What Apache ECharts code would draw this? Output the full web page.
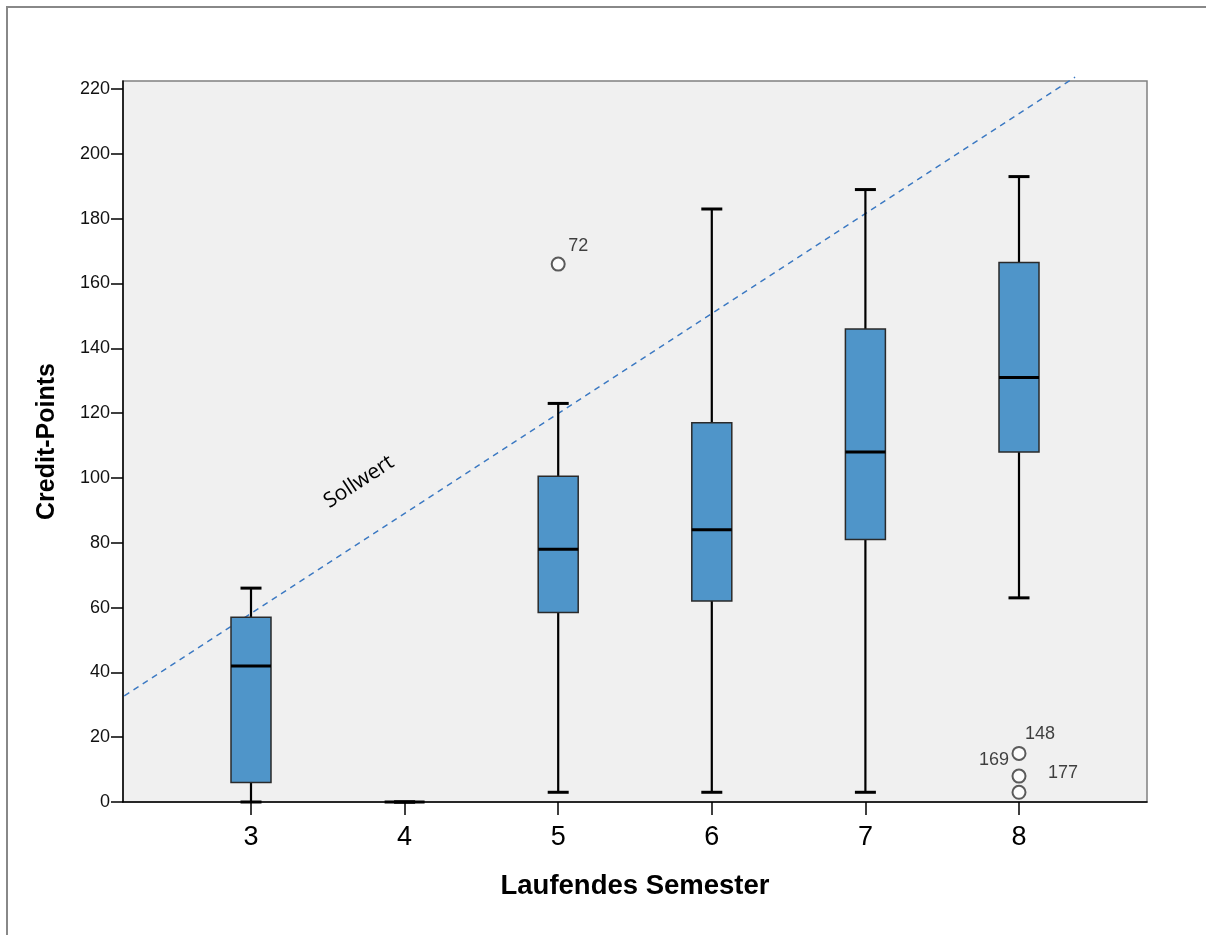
<!DOCTYPE html>
<html>
<head>
<meta charset="utf-8">
<script src="https://cdn.jsdelivr.net/npm/echarts@6/dist/echarts.min.js"></script>
<style>
    html, body { margin: 0; padding: 0; background: #fff; }
    #main { width: 1206px; height: 935px; }
</style>
</head>
<body>
<div id="main"></div>
<script>
// Boxplot-Kennwerte je Semester
const semester = [3, 4, 5, 6, 7, 8]
const whiskerLow = [0, 0, 3, 3, 3, 63]
const q1 = [6, 0, 58.5, 62, 81, 108]
const median = [42, 0, 78, 84, 108, 131]
const q3 = [57, 0, 100.5, 117, 146, 166.5]
const whiskerHigh = [66, 0, 123, 183, 189, 193]

// Ausreißer
const outlierX = [5, 8, 8, 8]
const outlierY = [166, 15, 8, 3]
const outlierId = ['72', '148', '169', '177']

// Sollwert-Linie
const sollX = [2.115, 8.365]
const sollY = [30.9, 223.7]

const yTicks = [0, 20, 40, 60, 80, 100, 120, 140, 160, 180, 200, 220]

const fontArial = 'Arial, "Liberation Sans", sans-serif'

let boxData = []
semester.forEach((s, i) => {
    boxData.push([s, whiskerLow[i], q1[i], median[i], q3[i], whiskerHigh[i]])
})

// Beschriftungs-Offsets der Ausreißer (wie im Original gesetzt)
const labelOffsets = [[20, -18], [21, -19], [-25, -16], [44, -19]]
let outlierData = []
outlierX.forEach((x, i) => {
    outlierData.push({
        value: [x, outlierY[i]],
        label: { offset: labelOffsets[i] }
    })
})

// Box mit Whiskern zeichnen
function renderBox(params, api) {
    const x = api.value(0)
    const pLow = api.coord([x, api.value(1)])
    const pQ1 = api.coord([x, api.value(2)])
    const pMed = api.coord([x, api.value(3)])
    const pQ3 = api.coord([x, api.value(4)])
    const pHigh = api.coord([x, api.value(5)])
    const boxW = 40
    const capW = 21
    const cx = pMed[0]
    return {
        type: 'group',
        children: [
            {
                type: 'line',
                shape: { x1: cx, y1: pLow[1], x2: cx, y2: pHigh[1] },
                style: { stroke: '#000', lineWidth: 2.2 }
            },
            {
                type: 'line',
                shape: { x1: cx - capW / 2, y1: pHigh[1], x2: cx + capW / 2, y2: pHigh[1] },
                style: { stroke: '#000', lineWidth: 3 }
            },
            {
                type: 'line',
                shape: { x1: cx - capW / 2, y1: pLow[1], x2: cx + capW / 2, y2: pLow[1] },
                style: { stroke: '#000', lineWidth: 3 }
            },
            {
                type: 'rect',
                shape: { x: cx - boxW / 2, y: pQ3[1], width: boxW, height: pQ1[1] - pQ3[1] },
                style: { fill: '#4f95c9', stroke: '#2a2a2a', lineWidth: 1.5 }
            },
            {
                type: 'line',
                shape: { x1: cx - boxW / 2, y1: pMed[1], x2: cx + boxW / 2, y2: pMed[1] },
                style: { stroke: '#000', lineWidth: 3 }
            }
        ]
    }
}

var myChart = echarts.init(document.getElementById('main'))

var option = {
    animation: false,
    backgroundColor: '#fff',
    graphic: [
        {
            type: 'polyline',
            shape: { points: [[7, 935], [7, 7], [1206, 7]] },
            style: { stroke: '#888', lineWidth: 2, fill: null },
            z: 10
        },
        {
            type: 'text',
            x: 359,
            y: 482,
            rotation: 33 * Math.PI / 180,
            style: {
                text: 'Sollwert',
                font: '21px "Open Sans", sans-serif',
                fill: '#000',
                align: 'center',
                verticalAlign: 'middle'
            },
            z: 10
        }
    ],
    grid: {
        left: 123,
        right: 59,
        top: 81,
        bottom: 133,
        show: true,
        backgroundColor: '#f0f0f0',
        borderColor: '#808080',
        borderWidth: 1.5
    },
    xAxis: {
        type: 'value',
        min: 13 / 6,
        max: 53 / 6,
        name: 'Laufendes Semester',
        nameLocation: 'middle',
        nameGap: 70,
        nameTextStyle: { fontFamily: fontArial, fontWeight: 'bold', fontSize: 27.5, color: '#000' },
        splitLine: { show: false },
        axisLine: { lineStyle: { color: '#000', width: 1.5 } },
        axisTick: { show: true, length: 13, customValues: semester, lineStyle: { color: '#000', width: 1.5 } },
        axisLabel: { customValues: semester, fontFamily: fontArial, fontSize: 27, color: '#000', margin: 22 }
    },
    yAxis: {
        type: 'value',
        min: 0,
        max: 222.5,
        name: 'Credit-Points',
        nameLocation: 'middle',
        nameGap: 63,
        nameTextStyle: { fontFamily: fontArial, fontWeight: 'bold', fontSize: 25, color: '#000' },
        splitLine: { show: false },
        axisLine: { show: true, lineStyle: { color: '#000', width: 1.5 } },
        axisTick: { show: true, length: 12, customValues: yTicks, lineStyle: { color: '#000', width: 1.5 } },
        axisLabel: { customValues: yTicks, fontFamily: fontArial, fontSize: 18, color: '#111', margin: 13 }
    },
    series: [
        {
            name: 'Sollwert',
            type: 'line',
            data: sollX.map((x, i) => [x, sollY[i]]),
            clip: false,
            symbol: 'none',
            lineStyle: { color: '#3a78c2', width: 1.4, type: [6, 5] },
            z: 3
        },
        {
            name: 'Credit-Points',
            type: 'custom',
            renderItem: renderBox,
            data: boxData,
            z: 4
        },
        {
            name: 'Ausreißer',
            type: 'scatter',
            data: outlierData,
            symbol: 'emptyCircle',
            symbolSize: 13,
            itemStyle: { color: '#333', borderColor: '#333', borderWidth: 1.8 },
            label: {
                show: true,
                position: 'inside',
                formatter: (p) => outlierId[p.dataIndex],
                fontFamily: fontArial,
                fontSize: 18,
                color: '#111'
            },
            z: 5
        }
    ]
}

myChart.setOption(option)
</script>
</body>
</html>
